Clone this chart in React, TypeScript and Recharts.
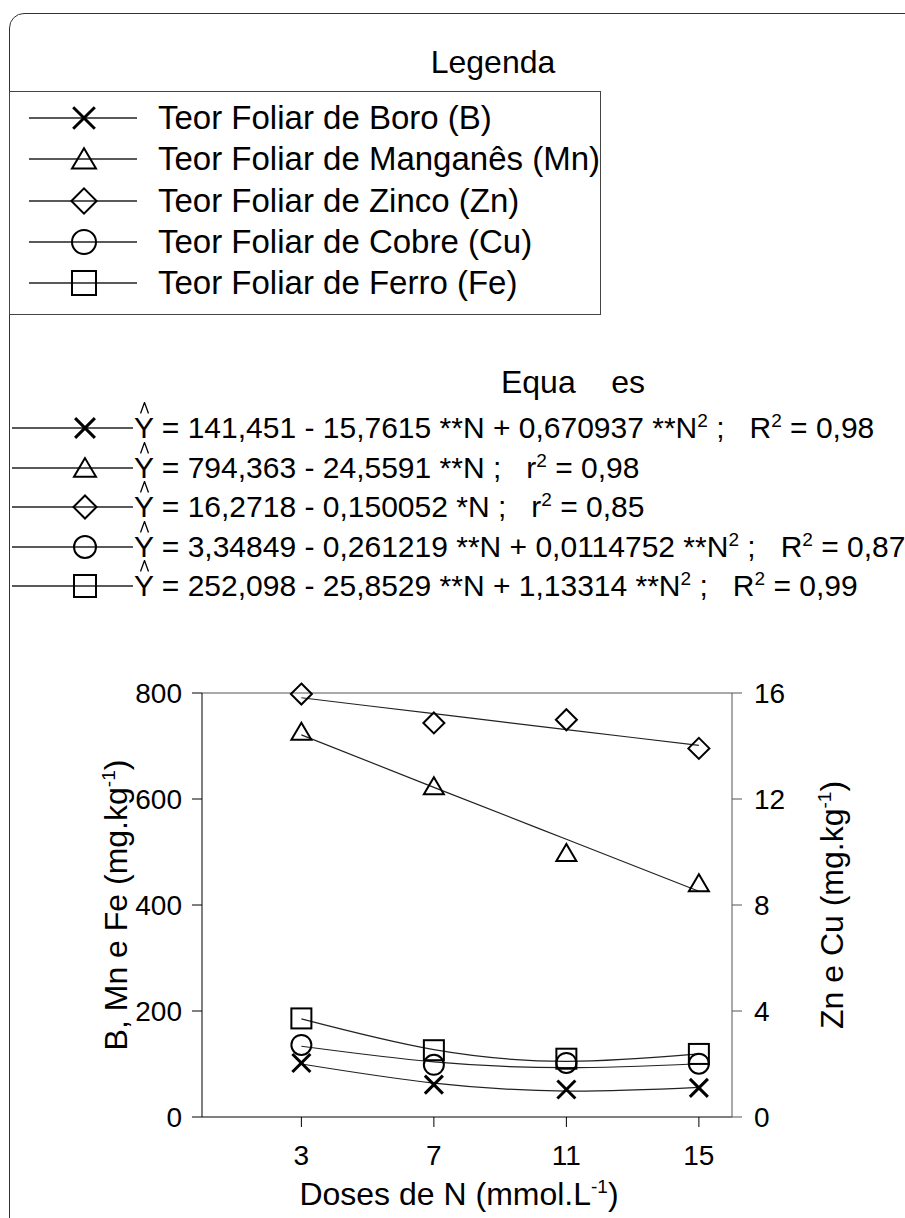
import React from 'react';
import { ComposedChart, Line, XAxis, YAxis, ReferenceLine } from 'recharts';

const FONT = '"Liberation Sans", Arial, Helvetica, sans-serif';

// doses de N (mmol.L-1)
const doses = [3, 7, 11, 15];

// measured points
const boro = [102, 61, 52, 55];
const manganes = [727, 624, 498, 441];
const ferro = [186, 126, 110, 119];
const zinco = [15.96, 14.87, 14.99, 13.91];
const cobre = [2.72, 1.97, 2.04, 2.01];

// fitted curves, read at the same doses
const boroFit = [100, 64, 49, 56];
const manganesFit = [721, 622, 524, 426];
const ferroFit = [185, 127, 105, 119];
const zincoFit = [15.82, 15.22, 14.62, 14.02];
const cobreFit = [2.67, 2.08, 1.86, 2.01];

const leftTicks = [0, 200, 400, 600, 800];
const rightTicks = [0, 4, 8, 12, 16];

const legendNames = [
  'Teor Foliar de Boro (B)',
  'Teor Foliar de Manganês (Mn)',
  'Teor Foliar de Zinco (Zn)',
  'Teor Foliar de Cobre (Cu)',
  'Teor Foliar de Ferro (Fe)',
];

const markerKinds = ['x', 'triangle', 'diamond', 'circle', 'square'];

// "^2" marks a superscript 2
const equations = [
  'Y = 141,451 - 15,7615 **N + 0,670937 **N^2 ;   R^2 = 0,98',
  'Y = 794,363 - 24,5591 **N ;   r^2 = 0,98',
  'Y = 16,2718 - 0,150052 *N ;   r^2 = 0,85',
  'Y = 3,34849 - 0,261219 **N + 0,0114752 **N^2 ;   R^2 = 0,87',
  'Y = 252,098 - 25,8529 **N + 1,13314 **N^2 ;   R^2 = 0,99',
];

const rows = doses.map((n, i) => ({
  N: n,
  B: boro[i],
  Mn: manganes[i],
  Fe: ferro[i],
  Zn: zinco[i],
  Cu: cobre[i],
  Bfit: boroFit[i],
  Mnfit: manganesFit[i],
  Fefit: ferroFit[i],
  Znfit: zincoFit[i],
  Cufit: cobreFit[i],
}));

const series = [
  { key: 'B', fit: 'Bfit', axis: 'left', kind: 'x' },
  { key: 'Mn', fit: 'Mnfit', axis: 'left', kind: 'triangle' },
  { key: 'Zn', fit: 'Znfit', axis: 'right', kind: 'diamond' },
  { key: 'Cu', fit: 'Cufit', axis: 'right', kind: 'circle' },
  { key: 'Fe', fit: 'Fefit', axis: 'left', kind: 'square' },
];

function Marker({ kind, cx, cy, k = 1 }: { kind: string; cx?: number; cy?: number; k?: number }) {
  if (cx == null || cy == null) return <g />;
  const st = { fill: 'none', stroke: '#000', strokeWidth: 2 };
  const h = 10 * k;
  switch (kind) {
    case 'x': {
      const d = 9 * k;
      return (
        <g>
          <line x1={cx - d} y1={cy - d} x2={cx + d} y2={cy + d} stroke="#000" strokeWidth={3} />
          <line x1={cx - d} y1={cy + d} x2={cx + d} y2={cy - d} stroke="#000" strokeWidth={3} />
        </g>
      );
    }
    case 'triangle':
      return <polygon points={`${cx},${cy - 0.9 * h} ${cx - h},${cy + 0.8 * h} ${cx + h},${cy + 0.8 * h}`} {...st} />;
    case 'diamond':
      return <polygon points={`${cx},${cy - 1.05 * h} ${cx + 1.05 * h},${cy} ${cx},${cy + 1.05 * h} ${cx - 1.05 * h},${cy}`} {...st} />;
    case 'circle':
      return <circle cx={cx} cy={cy} r={h} {...st} />;
    default:
      return <rect x={cx - h} y={cy - h} width={2 * h} height={2 * h} {...st} />;
  }
}

function Swatch({ kind, x1, x2, mx, top, k }: { kind: string; x1: number; x2: number; mx: number; top: number; k: number }) {
  return (
    <svg width={160} height={40} style={{ position: 'absolute', left: 0, top, overflow: 'visible' }}>
      <line x1={x1} y1={20} x2={x2} y2={20} stroke="#222" strokeWidth={1.3} />
      <Marker kind={kind} cx={mx} cy={20} k={k} />
    </svg>
  );
}

function Equation({ text }: { text: string }) {
  const parts = text.split('^2');
  return (
    <>
      {parts.map((p, i) => (
        <React.Fragment key={i}>
          {p}
          {i < parts.length - 1 && <sup style={{ fontSize: 19, lineHeight: 0 }}>2</sup>}
        </React.Fragment>
      ))}
    </>
  );
}

const tickStyle = { fontSize: 28, fill: '#000', fontFamily: FONT };

export default function App() {
  return (
    <div
      style={{
        position: 'absolute',
        left: 0,
        top: 0,
        width: 905,
        height: 1218,
        overflow: 'hidden',
        background: '#fff',
        fontFamily: FONT,
        color: '#000',
      }}
    >
      {/* outer frame */}
      <div
        style={{
          position: 'absolute',
          left: 9,
          top: 13,
          width: 940,
          height: 1300,
          border: '1.5px solid #333',
          borderRadius: 15,
          boxSizing: 'border-box',
        }}
      />

      {/* Legenda */}
      <div style={{ position: 'absolute', left: 493, top: 62, transform: 'translate(-50%,-50%)', fontSize: 32, lineHeight: '32px', whiteSpace: 'nowrap' }}>
        Legenda
      </div>
      <div
        style={{
          position: 'absolute',
          left: 9,
          top: 91,
          width: 592,
          height: 224,
          border: '1px solid #444',
          boxSizing: 'border-box',
        }}
      />
      {legendNames.map((name, i) => {
        const top = 118 + 41.3 * i - 20;
        return (
          <React.Fragment key={name}>
            <Swatch kind={markerKinds[i]} x1={29} x2={137} mx={84} top={top} k={1.2} />
            <div style={{ position: 'absolute', left: 158, top, height: 40, lineHeight: '40px', fontSize: 33, whiteSpace: 'nowrap' }}>
              {name}
            </div>
          </React.Fragment>
        );
      })}

      {/* Equações */}
      <div style={{ position: 'absolute', left: 573, top: 382, transform: 'translate(-50%,-50%)', fontSize: 32, lineHeight: '32px', whiteSpace: 'pre' }}>
        {'Equa    es'}
      </div>
      {equations.map((eq, i) => {
        const top = 428 + 39.5 * i - 20;
        return (
          <React.Fragment key={i}>
            <Swatch kind={markerKinds[i]} x1={12} x2={133} mx={85} top={top} k={1.1} />
            <svg width={10} height={12} style={{ position: 'absolute', left: 140, top: top - 6 }}>
              <polyline points="0.5,11.5 4.5,0.5 8.5,11.5" fill="none" stroke="#000" strokeWidth={1.3} />
            </svg>
            <div style={{ position: 'absolute', left: 134, top, height: 40, lineHeight: '40px', fontSize: 30, whiteSpace: 'pre' }}>
              <Equation text={eq} />
            </div>
          </React.Fragment>
        );
      })}

      {/* chart */}
      <div style={{ position: 'absolute', left: 0, top: 640 }}>
        <ComposedChart width={905} height={578} data={rows} margin={{ top: 53, right: 0, bottom: 0, left: 0 }}>
          <XAxis
            dataKey="N"
            type="number"
            domain={[0, 16]}
            ticks={doses}
            height={101}
            tickSize={10}
            tickMargin={18}
            tick={tickStyle}
            axisLine={{ stroke: '#000' }}
            tickLine={{ stroke: '#000' }}
          />
          <YAxis
            yAxisId="left"
            domain={[0, 800]}
            ticks={leftTicks}
            width={202}
            tickSize={10}
            tickMargin={10}
            tick={tickStyle}
            axisLine={{ stroke: '#000' }}
            tickLine={{ stroke: '#000' }}
            interval={0}
          />
          <YAxis
            yAxisId="right"
            orientation="right"
            domain={[0, 16]}
            ticks={rightTicks}
            width={173}
            tickSize={10}
            tickMargin={12}
            tick={tickStyle}
            axisLine={{ stroke: '#555' }}
            tickLine={{ stroke: '#555' }}
            interval={0}
          />
          <ReferenceLine yAxisId="left" y={800} stroke="#555" strokeWidth={1} />
          {series.map((s) => (
            <Line
              key={s.fit}
              yAxisId={s.axis}
              dataKey={s.fit}
              type="natural"
              stroke="#222"
              strokeWidth={1.2}
              dot={false}
              activeDot={false}
              isAnimationActive={false}
            />
          ))}
          {series.map((s) => (
            <Line
              key={s.key}
              yAxisId={s.axis}
              dataKey={s.key}
              stroke="none"
              dot={(p: any) => <Marker key={`${s.key}-${p.index}`} kind={s.kind} cx={p.cx} cy={p.cy} />}
              activeDot={false}
              isAnimationActive={false}
            />
          ))}
        </ComposedChart>
      </div>

      {/* axis titles */}
      <div style={{ position: 'absolute', left: 116, top: 905, transform: 'translate(-50%,-50%) rotate(-90deg)', fontSize: 32, lineHeight: '32px', whiteSpace: 'nowrap' }}>
        B, Mn e Fe (mg.kg<sup style={{ fontSize: 19, lineHeight: 0 }}>-1</sup>)
      </div>
      <div style={{ position: 'absolute', left: 832, top: 905, transform: 'translate(-50%,-50%) rotate(-90deg)', fontSize: 32, lineHeight: '32px', whiteSpace: 'nowrap' }}>
        Zn e Cu (mg.kg<sup style={{ fontSize: 19, lineHeight: 0 }}>-1</sup>)
      </div>
      <div style={{ position: 'absolute', left: 459, top: 1194, transform: 'translate(-50%,-50%)', fontSize: 32, lineHeight: '32px', whiteSpace: 'nowrap' }}>
        Doses de N (mmol.L<sup style={{ fontSize: 19, lineHeight: 0 }}>-1</sup>)
      </div>
    </div>
  );
}
